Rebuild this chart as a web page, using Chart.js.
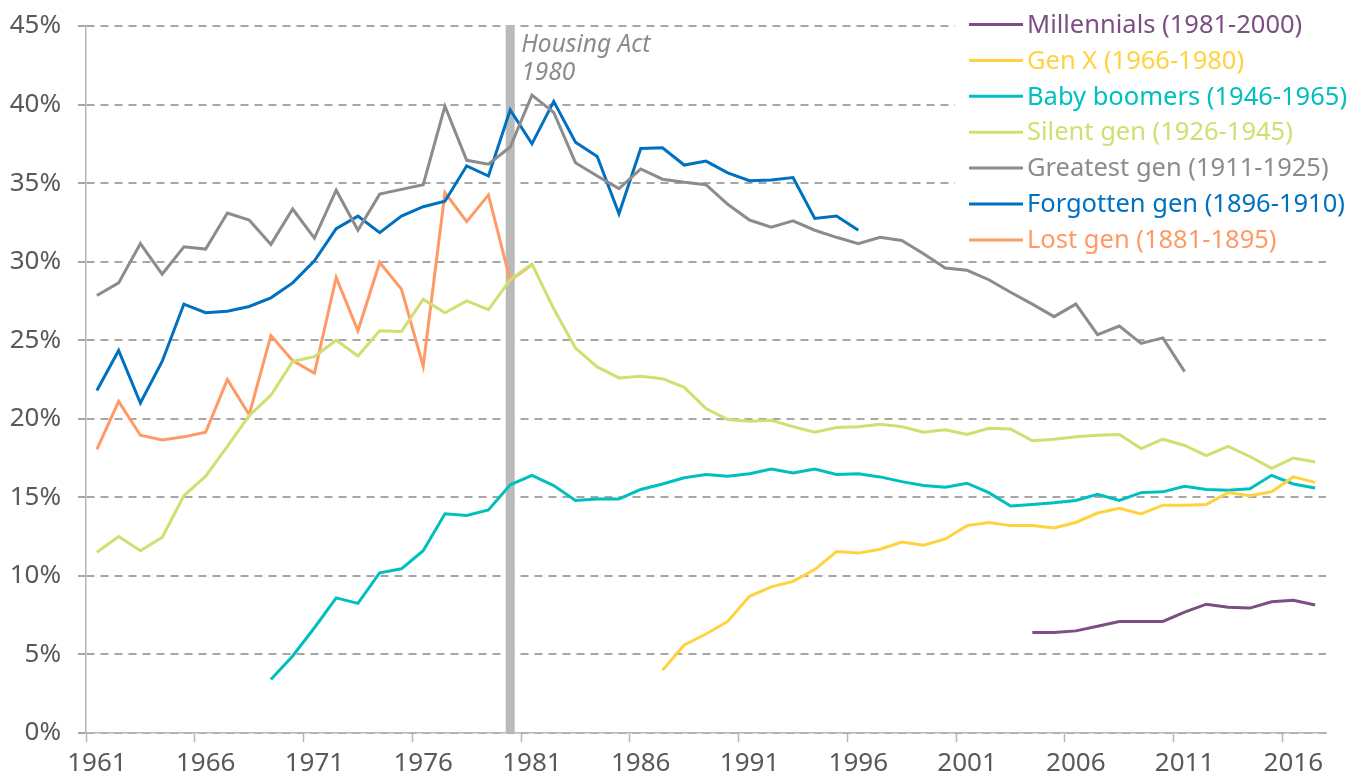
<!DOCTYPE html>
<html lang="en">
<head>
    <meta charset="UTF-8">
    <title>Share by generation, 1961-2017</title>
    <script src="https://cdn.jsdelivr.net/npm/chart.js@4.4.1/dist/chart.umd.min.js"></script>
    <style>
        html, body { margin: 0; padding: 0; background: #fff; }
        #wrap { width: 1365px; height: 778px; }
    </style>
</head>
<body>
    <div id="wrap"><canvas id="chart" width="1365" height="778"></canvas></div>

    <script>
        // years 1961..2017
        const years = [];
        for (let y = 1961; y <= 2017; y++) years.push(String(y));

        // values in %, each list starts at its first year
        const millennialsStart = 2004;
        const millennials = [6.4, 6.4, 6.5, 6.8, 7.1, 7.1, 7.1, 7.7, 8.2, 8.0, 7.95, 8.35, 8.45, 8.15];

        const genXStart = 1987;
        const genX = [4.0, 5.6, 6.3, 7.1, 8.7, 9.3, 9.65, 10.4, 11.55, 11.45, 11.7, 12.15, 11.95,
            12.35, 13.2, 13.4, 13.2, 13.2, 13.05, 13.4, 14.0, 14.3, 13.95, 14.5, 14.5, 14.55,
            15.3, 15.1, 15.35, 16.3, 15.95];

        const boomersStart = 1969;
        const boomers = [3.4, 4.9, 6.7, 8.6, 8.25, 10.2, 10.45, 11.6, 13.95, 13.85, 14.2, 15.8,
            16.4, 15.75, 14.8, 14.9, 14.9, 15.5, 15.85, 16.25, 16.45, 16.35, 16.5, 16.8, 16.55,
            16.8, 16.45, 16.5, 16.3, 16.0, 15.75, 15.65, 15.9, 15.3, 14.45, 14.55, 14.65, 14.8,
            15.2, 14.8, 15.3, 15.35, 15.7, 15.5, 15.45, 15.55, 16.4, 15.85, 15.6];

        const silentStart = 1961;
        const silent = [11.5, 12.5, 11.6, 12.45, 15.1, 16.35, 18.25, 20.2, 21.5, 23.65, 23.95,
            25.0, 24.0, 25.6, 25.55, 27.6, 26.75, 27.5, 26.95, 28.85, 29.85, 27.0, 24.5, 23.3,
            22.6, 22.7, 22.55, 22.0, 20.65, 19.95, 19.85, 19.9, 19.5, 19.15, 19.45, 19.5, 19.65,
            19.5, 19.15, 19.3, 19.0, 19.4, 19.35, 18.6, 18.7, 18.85, 18.95, 19.0, 18.1, 18.7,
            18.3, 17.65, 18.25, 17.6, 16.85, 17.5, 17.25];

        const greatestStart = 1961;
        const greatest = [27.85, 28.65, 31.15, 29.2, 30.95, 30.8, 33.1, 32.65, 31.1, 33.35,
            31.5, 34.55, 32.0, 34.3, 34.6, 34.9, 39.9, 36.45, 36.2, 37.3, 40.6, 39.5, 36.3,
            35.45, 34.65, 35.9, 35.25, 35.05, 34.9, 33.65, 32.65, 32.2, 32.6, 32.0, 31.55,
            31.15, 31.55, 31.35, 30.5, 29.6, 29.45, 28.85, 28.05, 27.3, 26.5, 27.3, 25.35,
            25.9, 24.8, 25.15, 23.0];

        const forgottenStart = 1961;
        const forgotten = [21.8, 24.35, 21.0, 23.65, 27.3, 26.75, 26.85, 27.15, 27.7, 28.65,
            30.05, 32.1, 32.9, 31.85, 32.9, 33.5, 33.85, 36.1, 35.45, 39.65, 37.5, 40.2, 37.6,
            36.7, 33.05, 37.2, 37.25, 36.15, 36.4, 35.65, 35.15, 35.2, 35.35, 32.75, 32.9, 32.0];

        const lostStart = 1961;
        const lost = [18.05, 21.1, 18.95, 18.65, 18.85, 19.15, 22.5, 20.25, 25.3, 23.7, 22.9,
            29.0, 25.6, 29.95, 28.25, 23.35, 34.4, 32.55, 34.25, 28.8, 29.8];

        const seriesNames = ['Millennials (1981-2000)', 'Gen X (1966-1980)', 'Baby boomers (1946-1965)',
            'Silent gen (1926-1945)', 'Greatest gen (1911-1925)', 'Forgotten gen (1896-1910)', 'Lost gen (1881-1895)'];
        const seriesColors = ['#7b4f82', '#ffd23f', '#00bfbf', '#d0df70', '#8c8c8c', '#0070c0', '#ff9a66'];

        const yTicks = [0, 5, 10, 15, 20, 25, 30, 35, 40, 45];
        const eventYear = '1980';
        const eventLabel = ['Housing Act', '1980'];

        function pad(start, values) {
            const out = [];
            years.forEach((y) => {
                const i = Number(y) - start;
                out.push(i >= 0 && i < values.length ? values[i] : null);
            });
            return out;
        }

        const seriesData = [
            pad(millennialsStart, millennials),
            pad(genXStart, genX),
            pad(boomersStart, boomers),
            pad(silentStart, silent),
            pad(greatestStart, greatest),
            pad(forgottenStart, forgotten),
            pad(lostStart, lost)
        ];

        const FONT = '"Noto Sans", Lato, sans-serif';

        // grey bar for the housing act + its label
        const eventBar = {
            id: 'eventBar',
            beforeDatasetsDraw(chart) {
                const {ctx, chartArea, scales} = chart;
                const x = scales.x.getPixelForValue(years.indexOf(eventYear));
                ctx.save();
                ctx.fillStyle = '#bababa';
                ctx.fillRect(x - 4.5, chartArea.top - 1, 9, chartArea.bottom - chartArea.top + 1);
                ctx.fillStyle = '#8c8c8c';
                ctx.font = 'italic 24.5px ' + FONT;
                ctx.textBaseline = 'alphabetic';
                ctx.textAlign = 'left';
                ctx.fillText(eventLabel[0], x + 11, 52);
                ctx.fillText(eventLabel[1], x + 11, 80);
                ctx.restore();
            }
        };

        // legend drawn over the top right of the plot
        const boxLegend = {
            id: 'boxLegend',
            afterDraw(chart) {
                const {ctx} = chart;
                ctx.save();
                ctx.fillStyle = '#fff';
                ctx.fillRect(955, 0, 410, 252);
                ctx.font = '25.5px ' + FONT;
                ctx.textBaseline = 'middle';
                ctx.lineWidth = 3;
                chart.data.datasets.forEach((ds, i) => {
                    const y = 24.5 + i * 35.9;
                    ctx.strokeStyle = ds.borderColor;
                    ctx.beginPath();
                    ctx.moveTo(969, y);
                    ctx.lineTo(1023, y);
                    ctx.stroke();
                    ctx.fillStyle = ds.borderColor;
                    ctx.fillText(ds.label, 1027, y + 1);
                });
                ctx.restore();
            }
        };

        new Chart(document.getElementById('chart'), {
            type: 'line',
            data: {
                labels: years,
                datasets: seriesNames.map((name, i) => ({
                    label: name,
                    data: seriesData[i],
                    borderColor: seriesColors[i],
                    backgroundColor: seriesColors[i],
                    borderWidth: 3,
                    pointRadius: 0,
                    tension: 0,
                    spanGaps: false
                }))
            },
            options: {
                responsive: false,
                animation: false,
                layout: { padding: { top: 26, right: 39, left: 0, bottom: 0 } },
                plugins: {
                    legend: { display: false },
                    tooltip: { enabled: false }
                },
                scales: {
                    x: {
                        type: 'category',
                        offset: true,
                        afterFit: (s) => { s.height = 45; },
                        border: { color: '#b5b5b5', width: 1.5 },
                        grid: {
                            offset: true,
                            drawOnChartArea: false,
                            drawTicks: true,
                            tickLength: 9,
                            tickWidth: 1.5,
                            tickColor: (c) => (c.index !== undefined && c.index % 5 === 0) ? '#b5b5b5' : 'rgba(0,0,0,0)'
                        },
                        ticks: {
                            autoSkip: false,
                            maxRotation: 0,
                            padding: 6,
                            color: '#595959',
                            font: { family: FONT, size: 26 },
                            callback: function (v, i) { return i % 5 === 0 ? this.getLabelForValue(v) : ''; }
                        }
                    },
                    y: {
                        min: 0,
                        max: 45,
                        afterFit: (s) => { s.width = 86; s.paddingTop = 0; s.paddingBottom = 0; },
                        afterBuildTicks: (s) => { s.ticks = yTicks.map((v) => ({ value: v })); },
                        border: { color: '#b5b5b5', width: 1.5, dash: [8, 6] },
                        grid: {
                            color: '#a6a6a6',
                            lineWidth: 2,
                            drawTicks: true,
                            tickLength: 8,
                            tickBorderDash: [8, 6],
                            tickColor: '#a6a6a6'
                        },
                        ticks: {
                            padding: 17,
                            color: '#595959',
                            font: { family: FONT, size: 26 },
                            callback: (v) => v + '%'
                        }
                    }
                }
            },
            plugins: [eventBar, boxLegend]
        });
    </script>
</body>
</html>
